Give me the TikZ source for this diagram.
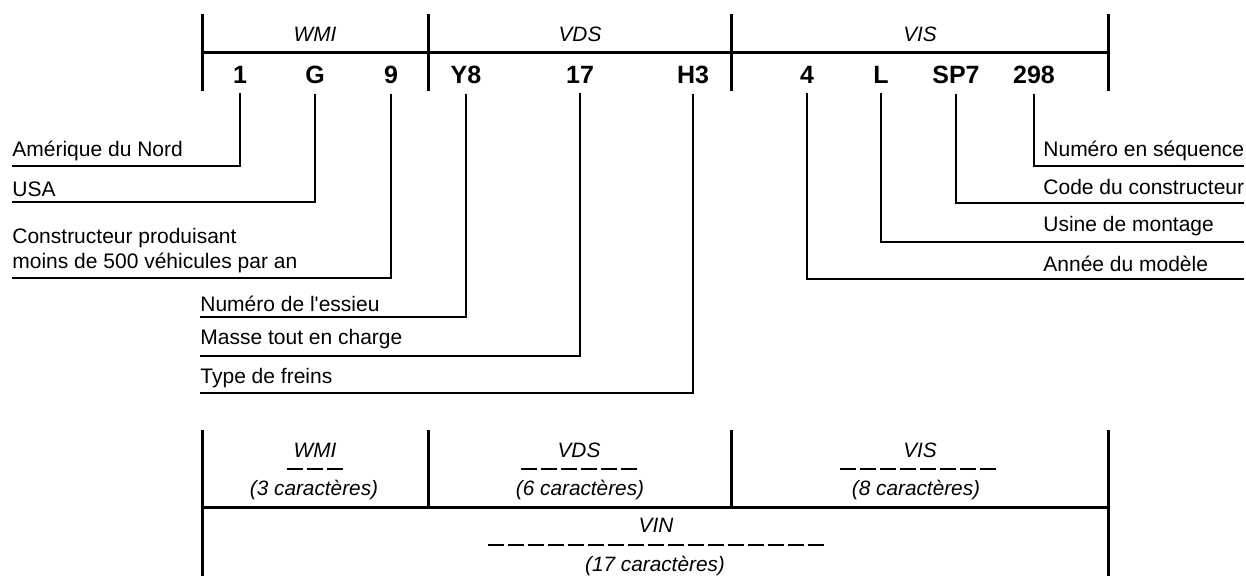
\documentclass[tikz,border=0pt]{standalone}
\usepackage{fontspec}
\setmainfont{Liberation Sans}
\usepackage{tikz}
\tikzstyle{code} = [font=\fontsize{12.5}{15}\selectfont\bfseries, anchor=base, inner xsep=0pt, inner ysep=5pt]
\tikzstyle{part} = [font=\fontsize{10.4}{12.5}\selectfont\itshape, anchor=base, inner sep=0pt]
\tikzstyle{desc} = [font=\fontsize{10.5}{12.5}\selectfont, anchor=base west, align=left, inner sep=0pt]
\tikzstyle{dashrow} = [inner sep=0pt, anchor=center]
\tikzstyle{bar} = [line width=1.5pt]
\tikzstyle{leader} = [line width=0.9pt]
\newcommand{\codeline}[2]{\draw[leader] (#1.south) |- (#2);}
\newcommand{\tirets}[1]{\foreach \i in {1,...,#1}{\ifnum\i>1\hspace{2pt}\fi\rule{8pt}{0.6pt}}}

\begin{document}
\begin{tikzpicture}[x=0.5pt, y=-0.5pt]
    \useasboundingbox (0,0) rectangle (1246,575);
    % top bar
    \draw[bar] (202,52) -- (1108,52);
    \foreach \x in {202,428,731,1108} \draw[bar] (\x,14) -- (\x,91);
    \draw (315,41) node[part] (wmi) {WMI};
    \draw (580,41) node[part] (vds) {VDS};
    \draw (920,41) node[part] (vis) {VIS};
    % codes
    \draw (240,83)  node[code] (c1) {1};
    \draw (315,83)  node[code] (cG) {G};
    \draw (391,83)  node[code] (c9) {9};
    \draw (466,83)  node[code] (cY8) {Y8};
    \draw (580,83)  node[code] (c17) {17};
    \draw (693,83)  node[code] (cH3) {H3};
    \draw (807,83)  node[code] (c4) {4};
    \draw (881,83)  node[code] (cL) {L};
    \draw (956,83)  node[code] (cSP7) {SP7};
    \draw (1034,83) node[code] (c298) {298};
    % descriptions
    \draw (12,156)   node[desc] (amerique) {Amérique du Nord};
    \draw (12,196)   node[desc] (usa) {USA};
    \draw (12,268)   node[desc] (petit) {Constructeur produisant \\ moins de 500 véhicules par an};
    \draw (200,311)  node[desc] (essieu) {Numéro de l\textquotesingle essieu};
    \draw (200,344)  node[desc] (masse) {Masse tout en charge};
    \draw (200,383)  node[desc] (freins) {Type de freins};
    \draw (1043,156) node[desc] (sequence) {Numéro en séquence};
    \draw (1043,194) node[desc] (constructeur) {Code du constructeur};
    \draw (1043,231) node[desc] (usine) {Usine de montage};
    \draw (1043,271) node[desc] (annee) {Année du modèle};
    % line ends
    \coordinate (e1) at (12,166);
    \coordinate (eG) at (12,202);
    \coordinate (e9) at (12,278);
    \coordinate (eY8) at (200,317);
    \coordinate (e17) at (200,356);
    \coordinate (eH3) at (200,393);
    \coordinate (e298) at (1244,166);
    \coordinate (eSP7) at (1244,203);
    \coordinate (eL) at (1244,242);
    \coordinate (e4) at (1244,279);
    \codeline{c1}{e1};
    \codeline{cG}{eG};
    \codeline{c9}{e9};
    \codeline{cY8}{eY8};
    \codeline{c17}{e17};
    \codeline{cH3}{eH3};
    \codeline{c298}{e298};
    \codeline{cSP7}{eSP7};
    \codeline{cL}{eL};
    \codeline{c4}{e4};
    % bottom table
    \draw[bar] (202,507) -- (1108,507);
    \foreach \x in {202,1108} \draw[bar] (\x,430) -- (\x,576);
    \foreach \x in {428,731} \draw[bar] (\x,430) -- (\x,507);
    \draw (315,457) node[part] (wmiB) {WMI};
    \draw (315,469) node[dashrow] (wmiD) {\tirets{3}};
    \draw (314,495) node[part] (wmiN) {(3 caractères)};
    \draw (579,457) node[part] (vdsB) {VDS};
    \draw (579,469) node[dashrow] (vdsD) {\tirets{6}};
    \draw (580,495) node[part] (vdsN) {(6 caractères)};
    \draw (920,457) node[part] (visB) {VIS};
    \draw (918,469) node[dashrow] (visD) {\tirets{8}};
    \draw (916,495) node[part] (visN) {(8 caractères)};
    \draw (656,532) node[part] (vin) {VIN};
    \draw (656,545) node[dashrow] (vinD) {\tirets{17}};
    \draw (655,571) node[part] (vinN) {(17 caractères)};
\end{tikzpicture}
\end{document}
